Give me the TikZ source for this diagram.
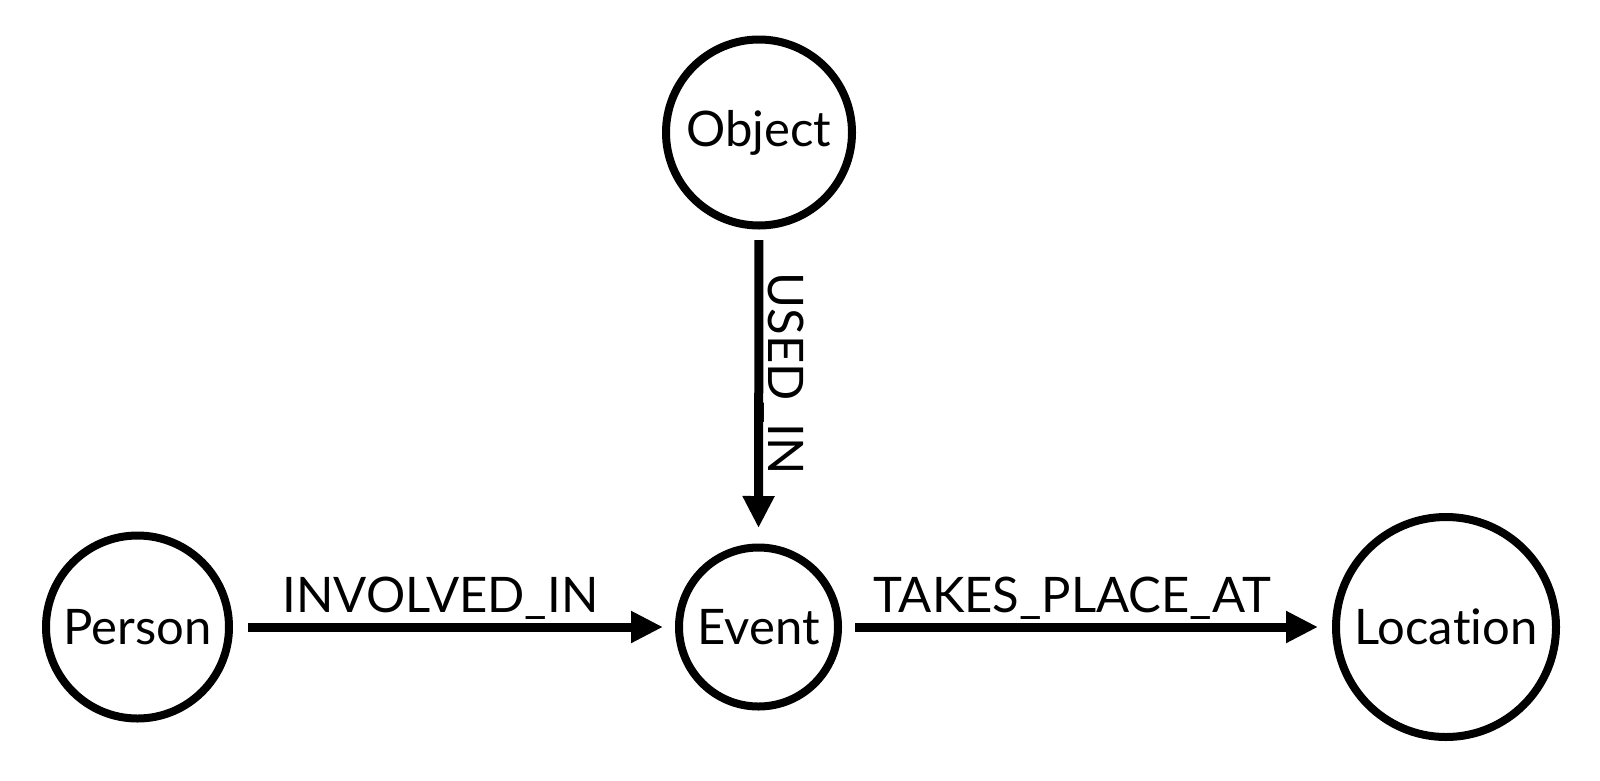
\documentclass[tikz,border=0pt]{standalone}
\usepackage{fontspec}
\setmainfont[Ligatures={NoCommon,NoRare}]{Lato}
\usetikzlibrary{arrows.meta,calc}
\begin{document}
\begin{tikzpicture}[x=1pt,y=-1pt,
  ent/.style={circle,draw=black,line width=8pt,inner sep=0pt,outer sep=0pt,font=\fontsize{49}{58}\selectfont},
  rel/.style={line width=9pt,-{Triangle[length=32pt,width=30pt]}},
  lbl/.style={inner sep=0pt,font=\fontsize{49}{58}\selectfont}]
\useasboundingbox (0,0) rectangle (1600,780);
\node[ent,minimum size=186pt] (obj) at (759,132.5) {Object};
\node[ent,minimum size=183pt] (per) at (137.5,627) {Person};
\node[ent,minimum size=159pt] (evt) at (758.5,627) {Event};
\node[ent,minimum size=220pt] (loc) at (1446,627) {Loca\kern0pt tion};
\draw[rel,shorten <=19pt,shorten >=16pt] (per.east) -- (evt.west);
\draw[rel,shorten <=17pt,shorten >=18pt] (evt.east) -- (loc.west);
\draw[rel,shorten <=14.5pt,shorten >=19.5pt] (obj.south) -- (evt.north);
\node[lbl,anchor=base] (l1) at ($(per.east)!0.47!(evt.west)+(0,-15)$) {INVOLVED\_IN};
\node[lbl,anchor=base] (l2) at ($(evt.east)!0.47!(loc.west)+(0,-15)$) {TAKES\_PLACE\_AT};
\node[lbl,anchor=base,rotate=-90] (l3) at ($(obj.south)!0.46!(evt.north)+(10,0)$) {USED\_IN};
\end{tikzpicture}
\end{document}
